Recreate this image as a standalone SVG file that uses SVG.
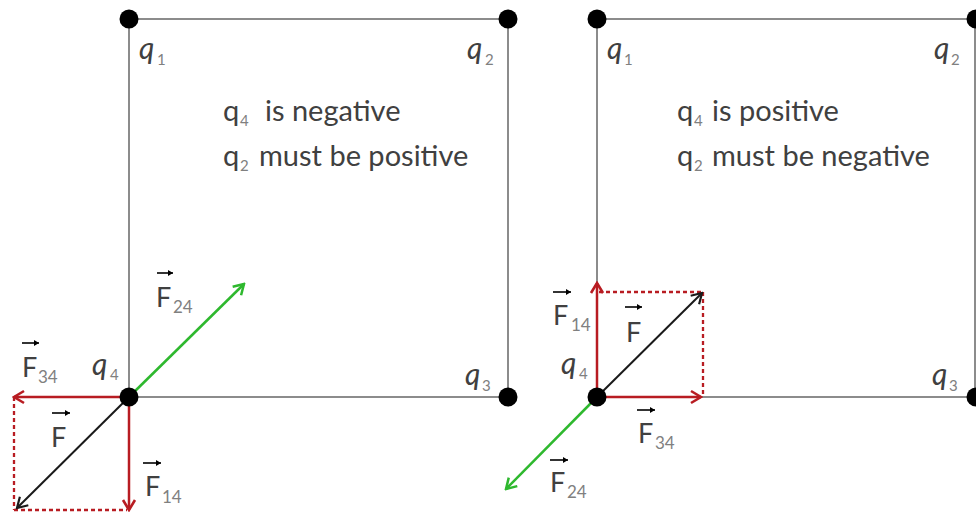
<svg xmlns="http://www.w3.org/2000/svg" width="976" height="516" viewBox="0 0 976 516">
<defs>
<style>
.t{font-family:Lato,"Liberation Sans",sans-serif;fill:#404040}
.main{font-size:29px}
.sub{font-size:15px;fill:#808080}
.q{font-size:30px;font-style:italic}
.qs{font-size:15px;fill:#808080}
.F{font-size:27px}
.Fs{font-size:17px;fill:#808080}
.edge{stroke:#8c8c8c;stroke-width:2;fill:none}
.dot{fill:#000}
.red{stroke:#b81c22;stroke-width:2.5;fill:none}
.dash{stroke:#b81c22;stroke-width:2.3;stroke-dasharray:4 3;fill:none}
.blk{stroke:#1a1a1a;stroke-width:2;fill:none}
.grn{stroke:#2eb82e;stroke-width:2.5;fill:none}
.vec{stroke:#000;stroke-width:1.6;fill:none}
</style>
<marker id="ar" markerUnits="userSpaceOnUse" viewBox="-12 -8 14 16" refX="0" refY="0" markerWidth="14" markerHeight="16" orient="auto">
<path d="M-10,-6 L0,0 L-10,6" fill="none" stroke="#b81c22" stroke-width="2.6"/>
</marker>
<marker id="ab" markerUnits="userSpaceOnUse" viewBox="-12 -8 14 16" refX="0" refY="0" markerWidth="14" markerHeight="16" orient="auto">
<path d="M-10,-6 L0,0 L-10,6" fill="none" stroke="#1a1a1a" stroke-width="2.2"/>
</marker>
<marker id="ag" markerUnits="userSpaceOnUse" viewBox="-12 -8 14 16" refX="0" refY="0" markerWidth="14" markerHeight="16" orient="auto">
<path d="M-10,-6 L0,0 L-10,6" fill="none" stroke="#2eb82e" stroke-width="2.5"/>
</marker>
<marker id="av" markerUnits="userSpaceOnUse" viewBox="-6 -4 7 8" refX="0" refY="0" markerWidth="7" markerHeight="8" orient="auto">
<path d="M-5,-3 L0,0 L-5,3 z" fill="#000"/>
</marker>
</defs>
<rect width="976" height="516" fill="#fff"/>

<g id="connectors">
<path class="edge" d="M129,19 H508 V397 H129 Z"/>
<path class="edge" d="M597,19 H976 M597,19 V397 H976 M975,19 V397"/>
<line class="dash" x1="14" y1="397" x2="14" y2="510"/>
<line class="dash" x1="14" y1="510" x2="127" y2="510"/>
<line class="red" x1="129" y1="397" x2="14" y2="397" marker-end="url(#ar)"/>
<line class="red" x1="129" y1="397" x2="129" y2="510" marker-end="url(#ar)"/>
<line class="blk" x1="129" y1="397" x2="17" y2="508" marker-end="url(#ab)"/>
<line class="grn" x1="129" y1="397" x2="244" y2="284" marker-end="url(#ag)"/>
<line class="dash" x1="599" y1="292" x2="703" y2="292"/>
<line class="dash" x1="703" y1="292" x2="703" y2="396"/>
<line class="red" x1="597" y1="397" x2="597" y2="283" marker-end="url(#ar)"/>
<line class="red" x1="597" y1="397" x2="701" y2="397" marker-end="url(#ar)"/>
<line class="blk" x1="597" y1="397" x2="702" y2="293" marker-end="url(#ab)"/>
<line class="grn" x1="597" y1="397" x2="506" y2="489" marker-end="url(#ag)"/>
</g>

<g id="L-q1"><circle class="dot" cx="129" cy="19" r="9.5"/><text class="t q" x="139" y="59">q</text><text class="t qs" x="157" y="65">1</text></g>
<g id="L-q2"><circle class="dot" cx="508" cy="19" r="9.5"/><text class="t q" x="467" y="59">q</text><text class="t qs" x="485" y="65">2</text></g>
<g id="L-q3"><circle class="dot" cx="508" cy="397" r="9.5"/><text class="t q" x="465" y="385">q</text><text class="t qs" x="482" y="391">3</text></g>
<g id="L-q4"><circle class="dot" cx="129" cy="397" r="9.5"/><text class="t q" x="92" y="375">q</text><text class="t qs" x="110" y="380">4</text></g>
<g id="L-note">
<text class="t main" x="223" y="121">q</text><text class="t sub" x="240" y="126">4</text><text class="t main" x="265" y="121">is negative</text>
<text class="t main" x="223" y="166">q</text><text class="t sub" x="240" y="171">2</text><text class="t main" x="259" y="166">must be positive</text>
</g>
<g id="L-F24"><line class="vec" x1="157" y1="273" x2="173" y2="273" marker-end="url(#av)"/><text class="t F" x="156" y="307">F</text><text class="t Fs" x="173" y="313">24</text></g>
<g id="L-F34"><line class="vec" x1="22" y1="343" x2="39" y2="343" marker-end="url(#av)"/><text class="t F" x="22" y="377">F</text><text class="t Fs" x="38" y="383">34</text></g>
<g id="L-F"><line class="vec" x1="52" y1="413" x2="70" y2="413" marker-end="url(#av)"/><text class="t F" x="51" y="447">F</text></g>
<g id="L-F14"><line class="vec" x1="143" y1="463" x2="161" y2="463" marker-end="url(#av)"/><text class="t F" x="145" y="496">F</text><text class="t Fs" x="162" y="503">14</text></g>

<g id="R-q1"><circle class="dot" cx="597" cy="19" r="9.5"/><text class="t q" x="607" y="59">q</text><text class="t qs" x="624" y="65">1</text></g>
<g id="R-q2"><circle class="dot" cx="976" cy="19" r="9.5"/><text class="t q" x="934" y="59">q</text><text class="t qs" x="951" y="65">2</text></g>
<g id="R-q3"><circle class="dot" cx="976" cy="397" r="9.5"/><text class="t q" x="932" y="385">q</text><text class="t qs" x="949" y="391">3</text></g>
<g id="R-q4"><circle class="dot" cx="597" cy="397" r="9.5"/><text class="t q" x="561" y="374">q</text><text class="t qs" x="579" y="379">4</text></g>
<g id="R-note">
<text class="t main" x="677" y="121">q</text><text class="t sub" x="694" y="126">4</text><text class="t main" x="712" y="121">is positive</text>
<text class="t main" x="677" y="166">q</text><text class="t sub" x="694" y="171">2</text><text class="t main" x="712" y="166">must be negative</text>
</g>
<g id="R-F14"><line class="vec" x1="553" y1="292" x2="571" y2="292" marker-end="url(#av)"/><text class="t F" x="553" y="325">F</text><text class="t Fs" x="571" y="331">14</text></g>
<g id="R-F"><line class="vec" x1="625" y1="307" x2="642" y2="307" marker-end="url(#av)"/><text class="t F" x="626" y="342">F</text></g>
<g id="R-F34"><line class="vec" x1="637" y1="410" x2="655" y2="410" marker-end="url(#av)"/><text class="t F" x="638" y="443">F</text><text class="t Fs" x="655" y="449">34</text></g>
<g id="R-F24"><line class="vec" x1="550" y1="460" x2="568" y2="460" marker-end="url(#av)"/><text class="t F" x="550" y="492">F</text><text class="t Fs" x="567" y="498">24</text></g>
</svg>
